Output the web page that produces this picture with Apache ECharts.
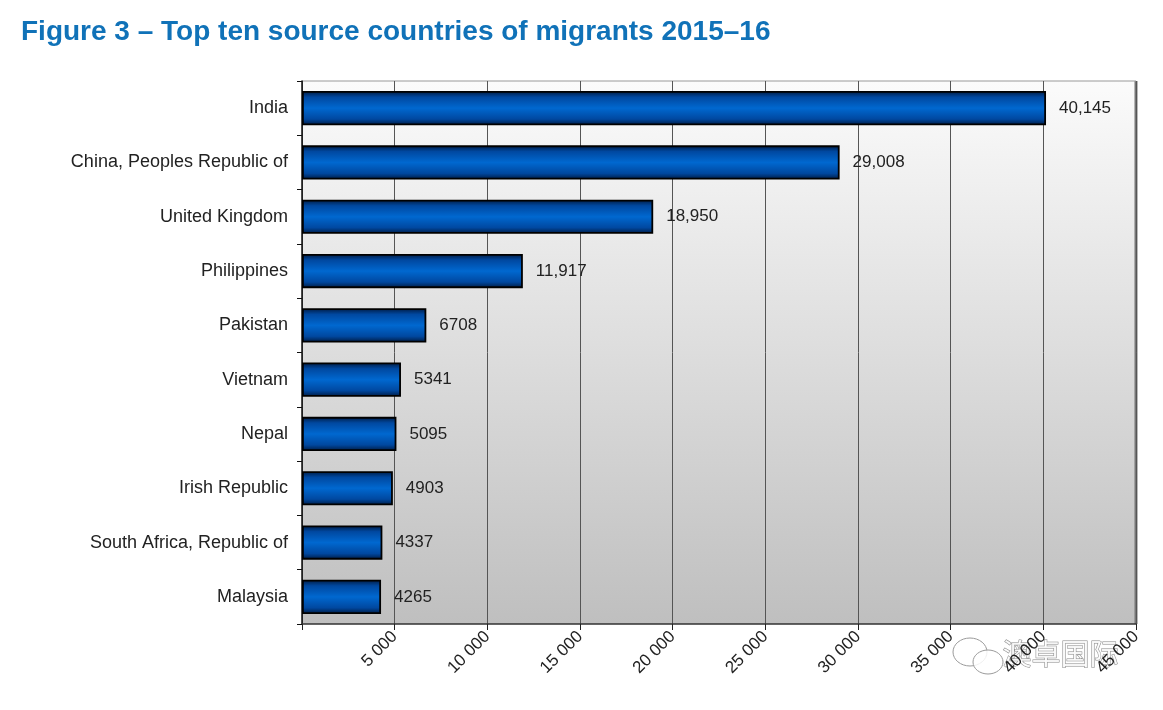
<!DOCTYPE html>
<html>
<head>
<meta charset="utf-8">
<script src="https://cdn.jsdelivr.net/npm/echarts@6/dist/echarts.min.js"></script>
<style>html,body{margin:0;padding:0;background:#fff;}#c{width:1163px;height:710px;}</style>
</head>
<body>
<div id="c"></div>
<script>
const categories = ['India','China, Peoples Republic of','United Kingdom','Philippines','Pakistan','Vietnam','Nepal','Irish Republic','South Africa, Republic of','Malaysia'];
const values = [40145, 29008, 18950, 11917, 6708, 5341, 5095, 4903, 4337, 4265];
const tickValues = [0, 5000, 10000, 15000, 20000, 25000, 30000, 35000, 40000, 45000];

const chart = echarts.init(document.getElementById('c'));
function fmtLabel(v){ return v >= 10000 ? v.toLocaleString('en-US') : String(v); }
function fmtTick(v){ return v === 0 ? '' : String(v).replace(/\B(?=(\d{3})+(?!\d))/g, ' '); }

chart.setOption({
  animation: false,
  title: {
    text: 'Figure 3 – Top ten source countries of migrants 2015–16',
    left: 16, top: 13,
    textStyle: { fontFamily: 'Liberation Sans, Arial', fontWeight: 'bold', fontSize: 28, color: '#1072b8' }
  },
  grid: { left: 302, right: 27, top: 81, height: 543, containLabel: false,
    show: true, borderWidth: 0,
    backgroundColor: new echarts.graphic.LinearGradient(0,0,0,1,[{offset:0,color:'#fbfbfb'},{offset:1,color:'#bfbfbf'}]) },
  xAxis: {
    type: 'value', min: 0, max: 45000, interval: 5000,
    axisLine: { show: true, lineStyle: { color: '#333', width: 1.5 } },
    axisTick: { show: true, length: 6, lineStyle: { color: '#222' } },
    axisLabel: { rotate: 45, formatter: fmtTick, fontFamily: 'Liberation Sans, Arial', fontSize: 17, color: '#222', margin: 10 },
    splitLine: { show: true, lineStyle: { color: '#555', width: 1 } }
  },
  yAxis: {
    type: 'category', data: categories, inverse: true,
    axisLine: { show: true, onZero: false, lineStyle: { color: '#111', width: 1.5 } },
    axisTick: { show: true, length: 5, lineStyle: { color: '#111' } },
    axisLabel: { fontFamily: 'Liberation Sans, Arial', fontSize: 18, color: '#222', margin: 14 },
    splitLine: { show: false }
  },
  series: [{
    type: 'bar', data: values, barWidth: '63%',
    itemStyle: {
      color: new echarts.graphic.LinearGradient(0,0,0,1,[
        {offset:0,color:'#001a40'},{offset:0.18,color:'#0048a0'},{offset:0.5,color:'#0068d0'},{offset:0.82,color:'#0048a0'},{offset:1,color:'#001a40'}]),
      borderColor: '#000', borderWidth: 1.8
    },
    label: { show: true, position: 'right', distance: 13, formatter: p => fmtLabel(p.value), fontFamily: 'Liberation Sans, Arial', fontSize: 17, color: '#222' }
  }],
  graphic: [
    { type: 'line', shape: { x1: 1136, y1: 81, x2: 1136, y2: 624 }, style: { stroke: '#777', lineWidth: 3 } },
    { type: 'line', shape: { x1: 302, y1: 81, x2: 1136, y2: 81 }, style: { stroke: '#999', lineWidth: 1 } },
    { type: 'ellipse', shape: { cx: 970, cy: 652, rx: 17, ry: 14 }, style: { fill: 'rgba(255,255,255,0.85)', stroke: '#999', lineWidth: 1 } },
    { type: 'ellipse', shape: { cx: 988, cy: 662, rx: 15, ry: 12 }, style: { fill: 'rgba(255,255,255,0.85)', stroke: '#999', lineWidth: 1 } },
    { type: 'text', left: 1002, top: 639, style: { text: '澳卓国际', font: '29px "Noto Sans CJK SC"', fill: 'rgba(255,255,255,0.85)', stroke: '#888', lineWidth: 1 } }
  ]
});
</script>
</body>
</html>
